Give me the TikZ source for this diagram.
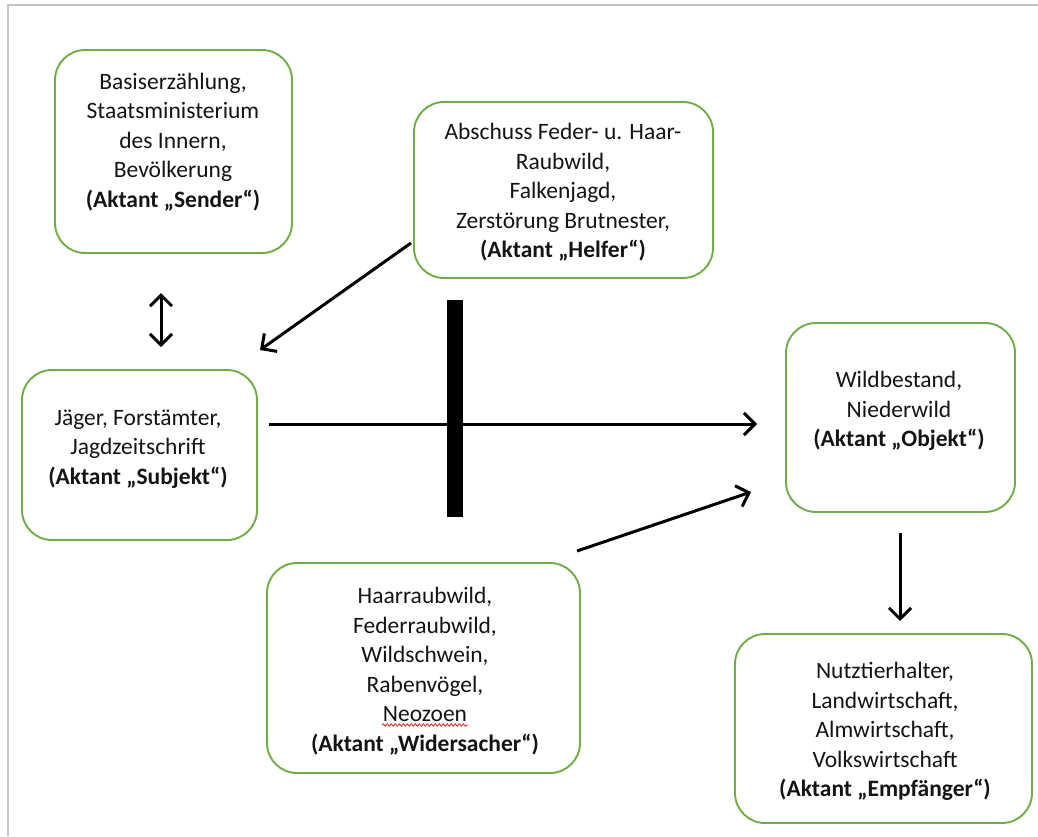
\documentclass[tikz,border=0pt]{standalone}
\usepackage{fontspec}
\setmainfont{Carlito}
\usetikzlibrary{arrows.meta,decorations.pathmorphing}
\definecolor{boxgreen}{HTML}{70AD47}
\definecolor{framegrey}{HTML}{C4C4C4}
\definecolor{txtcol}{HTML}{141414}
\definecolor{spellred}{HTML}{E0201B}

\begin{document}
\begin{tikzpicture}[x=1pt,y=-1pt,
  actbox/.style={draw=boxgreen, line width=1.9pt, rounded corners=30pt, inner sep=0pt},
  boxtext/.style={align=center, text=txtcol, inner sep=0pt,
    font=\fontsize{23.5}{29.5}\selectfont},
  conn/.style={line width=3pt, -{Straight Barb[length=11pt,width=22pt]}},
  biconn/.style={line width=3pt, {Straight Barb[length=11pt,width=22pt]}-{Straight Barb[length=11pt,width=22pt]}},
  barrier/.style={fill=black, inner sep=0pt, minimum width=16pt, minimum height=217pt}
]
\useasboundingbox (0,0) rectangle (1038,836);

% page frame
\draw[framegrey, line width=2pt] (1038,5) -- (8,5) -- (8,836);

% actant boxes
\node[actbox, minimum width=237pt, minimum height=203pt] (sender) at (173.5,151.5) {};
\node[boxtext] (senderText) at (173,142) {Basiserzählung,\\Staatsministerium\\des Innern,\\Bevölkerung\\\textbf{(Aktant „Sender“)}};

\node[actbox, minimum width=299pt, minimum height=176pt] (helfer) at (563.5,190) {};
\node[boxtext] (helferText) at (563,192.5) {Abschuss Feder- u. Haar-\\Raubwild,\\Falkenjagd,\\Zerstörung Brutnester,\\\textbf{(Aktant „Helfer“)}};

\node[actbox, minimum width=235pt, minimum height=170pt] (subjekt) at (139.5,455) {};
\node[boxtext] (subjektText) at (138,449) {Jäger, Forstämter,\\Jagdzeitschrift\\\textbf{(Aktant „Subjekt“)}};

\node[actbox, minimum width=229pt, minimum height=189pt] (objekt) at (900.5,417.5) {};
\node[boxtext] (objektText) at (899,411) {Wildbestand,\\Niederwild\\\textbf{(Aktant „Objekt“)}};

\node[actbox, minimum width=313pt, minimum height=210pt] (widersacher) at (423.5,668) {};
\node[boxtext] (widersacherText) at (425,671) {Haarraubwild,\\Federraubwild,\\Wildschwein,\\Rabenvögel,\\Neozoen\\\textbf{(Aktant „Widersacher“)}};

\node[actbox, minimum width=297pt, minimum height=189pt] (empfaenger) at (883.5,728.5) {};
\node[boxtext] (empfaengerText) at (885,731.5) {Nutztierhalter,\\Landwirtschaft,\\Almwirtschaft,\\Volkswirtschaft\\\textbf{(Aktant „Empfänger“)}};

% spell-check squiggle under "Neozoen"
\draw[spellred, line width=0.8pt, decorate, decoration={snake, amplitude=1.2pt, segment length=4pt}]
  (382,725) -- (468,725);

% connector end points
\coordinate (senderLink) at (161,293);
\coordinate (subjektLink) at (161,347);
\coordinate (helferOut) at (411,243);
\coordinate (subjektIn) at (260,350);
\coordinate (subjektOut) at (269,424);
\coordinate (objektIn) at (757,424);
\coordinate (widersacherOut) at (577,551);
\coordinate (objektInLow) at (751,492);
\coordinate (objektOut) at (900,533);
\coordinate (empfaengerIn) at (900,621);

% connectors
\draw[biconn] (senderLink) -- (subjektLink);
\draw[conn] (helferOut) -- (subjektIn);
\draw[conn] (subjektOut) -- (objektIn);
\draw[conn] (widersacherOut) -- (objektInLow);
\draw[conn] (objektOut) -- (empfaengerIn);

% blocking bar across the main axis
\node[barrier] (block) at (455,408.5) {};
\end{tikzpicture}
\end{document}
